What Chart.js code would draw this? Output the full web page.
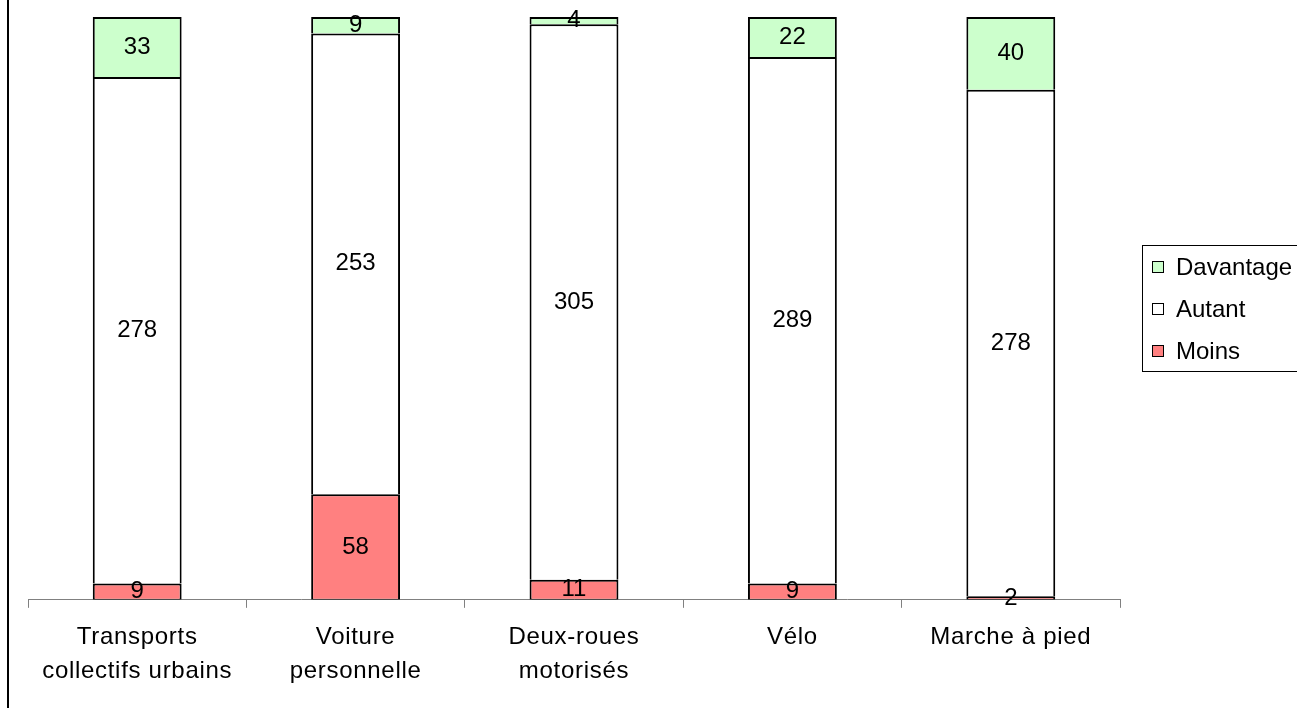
<!DOCTYPE html>
<html>
<head>
<meta charset="utf-8">
<style>
  html, body { margin: 0; padding: 0; background: #fff; }
  #wrap { width: 1297px; height: 708px; position: relative; }
</style>
<script src="https://cdn.jsdelivr.net/npm/chart.js@4.4.1/dist/chart.umd.min.js"></script>
</head>
<body>
<div id="wrap"><canvas id="c" width="1297" height="708"></canvas></div>
<script>
// Modes de déplacement
const categories = [
  ['Transports', 'collectifs urbains'],
  ['Voiture', 'personnelle'],
  ['Deux-roues', 'motorisés'],
  ['Vélo'],
  ['Marche à pied']
];
const moins     = [9, 58, 11, 9, 2];
const autant    = [278, 253, 305, 289, 278];
const davantage = [33, 9, 4, 22, 40];
const yMax = 320;

const FONT = '"Liberation Sans", Arial, sans-serif';

// Libellés d'axe légèrement espacés
const tickSpacing = {
  id: 'tickSpacing',
  beforeDraw(chart) { chart.ctx.letterSpacing = '0.7px'; },
  beforeDatasetsDraw(chart) { chart.ctx.letterSpacing = '0px'; }
};

// Valeurs écrites au centre de chaque segment
const segmentLabels = {
  id: 'segmentLabels',
  afterDatasetsDraw(chart) {
    const ctx = chart.ctx;
    ctx.save();
    ctx.font = '24px ' + FONT;
    ctx.fillStyle = '#000';
    ctx.textAlign = 'center';
    ctx.textBaseline = 'middle';
    chart.data.datasets.forEach((ds, i) => {
      const meta = chart.getDatasetMeta(i);
      meta.data.forEach((bar, j) => {
        const p = bar.getProps(['x', 'y', 'base'], true);
        ctx.fillText(String(ds.data[j]), p.x, (p.y + p.base) / 2);
      });
    });
    ctx.restore();
  }
};

// Cadre gauche et légende encadrée à droite
const frameAndLegend = {
  id: 'frameAndLegend',
  afterDraw(chart) {
    const ctx = chart.ctx;
    ctx.save();
    ctx.fillStyle = '#000';
    ctx.fillRect(7, 0, 2, 708);

    ctx.strokeStyle = '#000';
    ctx.lineWidth = 1;
    ctx.strokeRect(1142.5, 245.5, 170, 126);
    ctx.font = '24px ' + FONT;
    ctx.textAlign = 'left';
    ctx.textBaseline = 'middle';
    const items = chart.data.datasets.slice().reverse();
    items.forEach((ds, k) => {
      const cy = 267 + k * 42;
      ctx.fillStyle = ds.backgroundColor;
      ctx.fillRect(1152, cy - 6, 11, 11);
      ctx.strokeRect(1152.5, cy - 5.5, 11, 11);
      ctx.fillStyle = '#000';
      ctx.fillText(ds.label, 1176, cy + 1);
    });
    ctx.restore();
  }
};

const common = {
  borderColor: '#000',
  borderSkipped: false,
  inflateAmount: 0,
  categoryPercentage: 1.0,
  barPercentage: 0.407
};

new Chart(document.getElementById('c'), {
  type: 'bar',
  data: {
    labels: categories,
    datasets: [
      Object.assign({ label: 'Moins', data: moins, backgroundColor: '#FF8080',
        borderWidth: { left: 2, right: 2, top: 2, bottom: 1 } }, common),
      Object.assign({ label: 'Autant', data: autant, backgroundColor: '#FFFFFF',
        borderWidth: { left: 2, right: 2, top: 2, bottom: 0 } }, common),
      Object.assign({ label: 'Davantage', data: davantage, backgroundColor: '#CCFFCC',
        borderWidth: { left: 2, right: 2, top: 2, bottom: 0 } }, common)
    ]
  },
  options: {
    responsive: false,
    animation: false,
    layout: { padding: { left: 28, right: 177, top: 17, bottom: 8 } },
    plugins: {
      legend: { display: false },
      tooltip: { enabled: false }
    },
    scales: {
      x: {
        stacked: true,
        offset: true,
        grid: {
          display: true,
          offset: true,
          drawOnChartArea: false,
          drawTicks: true,
          tickLength: 8,
          color: '#808080',
          lineWidth: 1
        },
        border: { display: true, color: '#808080', width: 1 },
        ticks: {
          color: '#000',
          padding: 12,
          maxRotation: 0,
          autoSkip: false,
          font: { family: FONT, size: 24, lineHeight: 1.42 }
        }
      },
      y: {
        stacked: true,
        display: false,
        min: 0,
        max: yMax
      }
    }
  },
  plugins: [tickSpacing, segmentLabels, frameAndLegend]
});
</script>
</body>
</html>
